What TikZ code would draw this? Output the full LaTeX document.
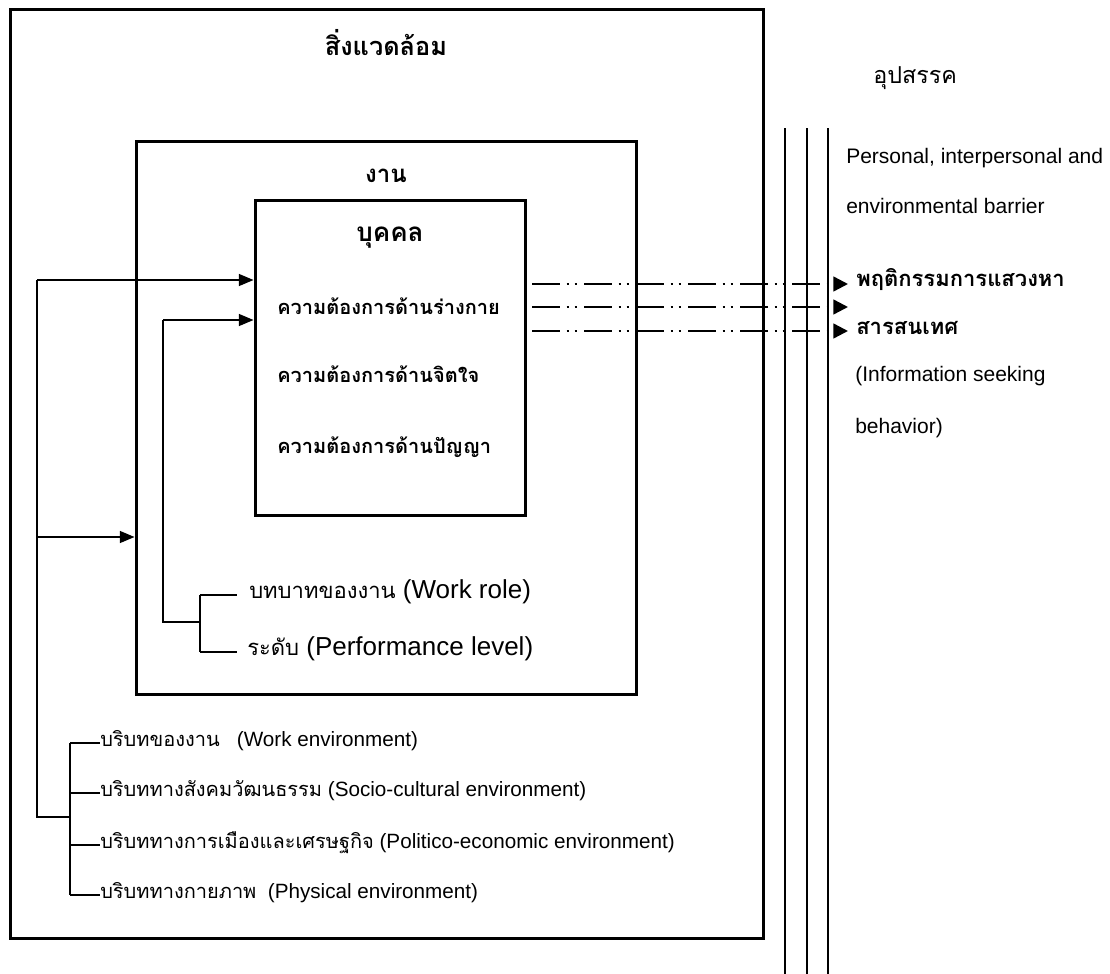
\documentclass[tikz,border=0pt]{standalone}
\usepackage{fontspec}
\setmainfont{Liberation Sans}
\newfontfamily\thai[Script=Thai]{Loma}
\usetikzlibrary{arrows.meta}
\tikzset{
  box/.style={draw, line width=2.25pt, inner sep=0pt},
  conn/.style={line width=1.1pt},
  arr/.style={conn, -{Triangle[length=11pt,width=9pt]}},
  ddarr/.style={line width=1.8pt, dash pattern=on 21pt off 5pt on 1.5pt off 4.5pt on 1.5pt off 5.5pt, -{Triangle[length=11pt,width=11pt]}},
  barline/.style={line width=1.1pt},
  lbl/.style={inner sep=0pt, anchor=west, text height=0.75em, text depth=0.25em},
  ttl/.style={inner sep=0pt, font={\fontsize{18pt}{21pt}\selectfont\thai\bfseries}},
  need/.style={lbl, font={\fontsize{15pt}{18pt}\selectfont\thai\bfseries}},
  role/.style={lbl, font={\fontsize{19.5pt}{23pt}\selectfont}},
  envt/.style={lbl, font={\fontsize{15.5pt}{18pt}\selectfont}},
  rtxt/.style={lbl, font={\fontsize{15.75pt}{19pt}\selectfont}},
  rbold/.style={lbl, font={\fontsize{16.5pt}{19pt}\selectfont\thai\bfseries}},
}
\newcommand\throle[1]{{\fontsize{16.5pt}{20pt}\selectfont\thai #1}}
\newcommand\thenv[1]{{\fontsize{15pt}{18pt}\selectfont\thai #1}}
\begin{document}
\begin{tikzpicture}[x=0.75pt,y=-0.75pt]
\useasboundingbox (0,0) rectangle (1110,974);
\fill[white] (0,0) rectangle (1110,974);
% boxes
\node[box, minimum width=564.75pt, minimum height=696pt] (env) at (386.5,474) {};
\node[box, minimum width=375pt, minimum height=414.75pt] (work) at (386,417.5) {};
\node[box, minimum width=202.5pt, minimum height=236.25pt] (person) at (390,357.5) {};
% titles
\node[ttl, font={\fontsize{19pt}{22pt}\selectfont\thai\bfseries}] (tenv) at (386,43) {สิ่งแวดล้อม};
\node[ttl] (twork) at (386,176) {งาน};
\node[ttl, font={\fontsize{19.5pt}{22pt}\selectfont\thai\bfseries}] (tperson) at (390,238) {บุคคล};
% needs
\node[need] (n1) at (277,311) {ความต้องการด้านร่างกาย};
\node[need] (n2) at (277,379) {ความต้องการด้านจิตใจ};
\node[need] (n3) at (277,450) {ความต้องการด้านปัญญา};
% roles
\node[role] (r1) at (249,595) {\throle{บทบาทของงาน} (Work role)};
\node[role] (r2) at (247,652) {\throle{ระดับ} (Performance level)};
% environments
\node[envt] (e1) at (100,743) {\thenv{บริบทของงาน}\ \ \ (Work environment)};
\node[envt] (e2) at (100,793) {\thenv{บริบททางสังคมวัฒนธรรม} (Socio-cultural environment)};
\node[envt] (e3) at (100,845) {\thenv{บริบททางการเมืองและเศรษฐกิจ} (Politico-economic environment)};
\node[envt] (e4) at (100,895) {\thenv{บริบททางกายภาพ}\ \ (Physical environment)};
% right side
\node[lbl, font={\fontsize{17.5pt}{20pt}\selectfont\thai}] (obs) at (873,80) {อุปสรรค};
\node[rtxt] (p1) at (846,160) {Personal, interpersonal and};
\node[rtxt] (p2) at (846,210) {environmental barrier};
\node[rbold] (s1) at (856,283) {พฤติกรรมการแสวงหา};
\node[rbold] (s2) at (856,331) {สารสนเทศ};
\node[rtxt] (s3) at (855,378) {(Information seeking};
\node[rtxt] (s4) at (855,430) {behavior)};
% barrier lines
\coordinate (b1t) at (785,128); \coordinate (b1b) at (785,974);
\coordinate (b2t) at (807,128); \coordinate (b2b) at (807,974);
\coordinate (b3t) at (828,128); \coordinate (b3b) at (828,974);
\draw[barline] (b1t) -- (b1b);
\draw[barline] (b2t) -- (b2b);
\draw[barline] (b3t) -- (b3b);
% dashed arrows
\coordinate (d1) at (532,284); \coordinate (f1) at (848,284);
\coordinate (d2) at (532,307); \coordinate (f2) at (848,307);
\coordinate (d3) at (532,331); \coordinate (f3) at (848,331);
\draw[ddarr] (d1) -- (f1);
\draw[ddarr] (d2) -- (f2);
\draw[ddarr] (d3) -- (f3);
% left connectors
\coordinate (j1) at (37,280);
\coordinate (j2) at (37,537);
\coordinate (j3) at (37,817);
\coordinate (bx) at (70,817);
\draw[arr] (j1) -- (j1 -| person.west);
\draw[arr] (j2) -- (j2 -| work.west);
\draw[conn] (j1) -- (j3) -- (bx);
\draw[conn] (e1.west -| bx) -- (e4.west -| bx);
\draw[conn] (e1.west -| bx) -- (e1.west);
\draw[conn] (e2.west -| bx) -- (e2.west);
\draw[conn] (e3.west -| bx) -- (e3.west);
\draw[conn] (e4.west -| bx) -- (e4.west);
% role bracket
\coordinate (k1) at (163,320);
\coordinate (k2) at (163,622);
\coordinate (kx) at (200,622);
\coordinate (kt) at (237,0);
\draw[arr] (k1) -- (k1 -| person.west);
\draw[conn] (k1) -- (k2) -- (kx);
\draw[conn] (r1.west -| kx) -- (r2.west -| kx);
\draw[conn] (r1.west -| kx) -- (r1.west -| kt);
\draw[conn] (r2.west -| kx) -- (r2.west -| kt);
\end{tikzpicture}
\end{document}
